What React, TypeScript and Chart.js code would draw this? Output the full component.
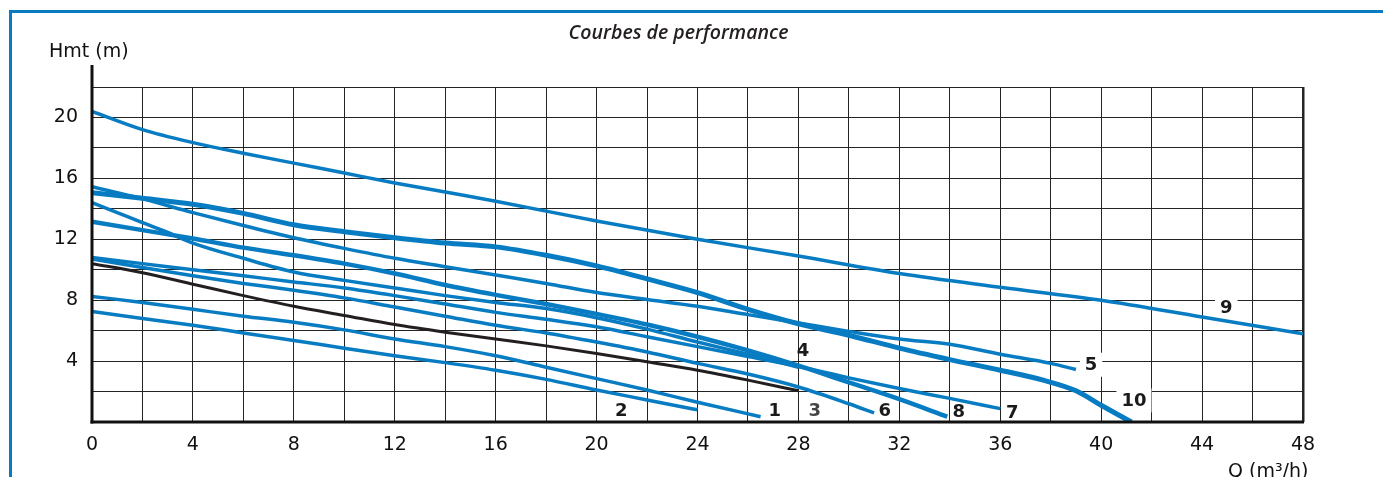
import React, { useEffect, useRef } from 'react';
import { Chart, registerables } from 'chart.js';

Chart.register(...registerables);

// ---------- data (Q in m3/h, Hmt in m) ----------
const curve1: [number, number][] = [[0, 8.25], [2, 7.85], [4, 7.4], [6, 6.95], [8, 6.55], [10, 6.05], [12, 5.45], [14, 4.95], [16, 4.35], [18, 3.6], [20, 2.85], [22, 2.1], [24, 1.3], [26.5, 0.35]];
const curve2: [number, number][] = [[0, 7.25], [2, 6.8], [4, 6.35], [6, 5.85], [8, 5.35], [10, 4.85], [12, 4.35], [14, 3.9], [16, 3.4], [18, 2.8], [20, 2.1], [22, 1.45], [24, 0.8]];
const curve3: [number, number][] = [[0, 10.4], [2, 9.8], [4, 9.05], [6, 8.3], [8, 7.6], [10, 7.0], [12, 6.4], [14, 5.9], [16, 5.45], [18, 5.0], [20, 4.5], [22, 3.95], [24, 3.4], [26, 2.75], [28, 2.05]];
const curve4: [number, number][] = [[0, 14.4], [1, 13.75], [2, 13.1], [3, 12.45], [4, 11.75], [6, 10.75], [8, 9.85], [10, 9.3], [12, 8.8], [14, 8.3], [16, 7.85], [18, 7.45], [20, 6.85], [22, 6.1], [24, 5.25], [26, 4.45], [28, 3.6]];
const curve5: [number, number][] = [[0, 15.45], [2, 14.65], [4, 13.75], [6, 12.9], [8, 12.1], [10, 11.4], [12, 10.75], [14, 10.2], [16, 9.65], [18, 9.1], [20, 8.5], [22, 8.05], [24, 7.6], [26, 7.05], [28, 6.5], [30, 5.95], [32, 5.45], [34, 5.1], [36, 4.45], [38, 3.85], [39, 3.45]];
const curve6: [number, number][] = [[0, 10.7], [2, 10.15], [4, 9.6], [6, 9.1], [8, 8.65], [10, 8.15], [12, 7.55], [14, 6.95], [16, 6.35], [18, 5.85], [20, 5.25], [22, 4.6], [24, 3.85], [26, 3.15], [28, 2.3], [30, 1.2], [31, 0.6]];
const curve7: [number, number][] = [[0, 10.8], [2, 10.4], [4, 10.0], [6, 9.6], [8, 9.2], [10, 8.8], [12, 8.3], [14, 7.75], [16, 7.2], [18, 6.75], [20, 6.25], [22, 5.6], [24, 4.95], [26, 4.3], [28, 3.65], [30, 2.9], [32, 2.2], [34, 1.55], [36, 0.88]];
const curve8: [number, number][] = [[0, 13.15], [2, 12.6], [4, 12.05], [6, 11.45], [8, 10.95], [10, 10.4], [12, 9.75], [14, 9.0], [16, 8.35], [18, 7.75], [20, 7.1], [22, 6.4], [24, 5.6], [26, 4.7], [28, 3.7], [30, 2.6], [32, 1.5], [33.9, 0.35]];
const curve9: [number, number][] = [[0, 20.4], [2, 19.2], [4, 18.35], [6, 17.65], [8, 17.0], [10, 16.35], [12, 15.7], [14, 15.1], [16, 14.5], [20, 13.2], [24, 12.0], [28, 10.9], [32, 9.75], [36, 8.85], [40, 8.0], [44, 6.9], [48, 5.8]];
const curve10: [number, number][] = [[0, 15.05], [2, 14.7], [4, 14.3], [6, 13.7], [8, 12.95], [10, 12.5], [12, 12.1], [14, 11.75], [16, 11.5], [18, 10.95], [20, 10.25], [22, 9.4], [24, 8.5], [26, 7.4], [28, 6.45], [30, 5.7], [32, 4.85], [34, 4.1], [36, 3.4], [37.7, 2.75], [39, 2.05], [40, 1.1], [41.2, 0]];

// curve number labels and where they sit (Q, H)
const labelText = ['1', '2', '3', '4', '5', '6', '7', '8', '9', '10'];
const labelQ = [27.06, 20.98, 28.65, 28.18, 39.6, 31.42, 36.48, 34.36, 44.96, 41.3];
const labelH = [0.77, 0.77, 0.77, 4.7, 3.76, 0.77, 0.66, 0.72, 7.54, 1.42];
const labelBoxed = [false, false, false, false, true, false, false, false, true, true];

const title = 'Courbes de performance';
const yTitle = 'Hmt (m)';
const xTitle = 'Q (m³/h)';

const qMin = 0, qMax = 48, qGridStep = 2, qLabelStep = 4;
const hMin = 0, hMax = 22, hGridStep = 2, hLabelStep = 4;

// ---------- styles ----------
const BLUE = 'rgb(8,124,194)';
const DARK = '#231f20';
const GRID = '#242424';
const TICK_FONT = { family: '"DejaVu Sans", sans-serif', size: 19 };
const LABEL_FONT = 'bold 18px "DejaVu Sans", sans-serif';

const toXY = (c: [number, number][]) => c.map(([x, y]) => ({ x, y }));

const seriesDefs: { data: [number, number][]; color: string; width: number }[] = [
  { data: curve3, color: DARK, width: 3 },
  { data: curve1, color: BLUE, width: 3.5 },
  { data: curve2, color: BLUE, width: 3.5 },
  { data: curve4, color: BLUE, width: 3.5 },
  { data: curve6, color: BLUE, width: 3.5 },
  { data: curve7, color: BLUE, width: 3.5 },
  { data: curve8, color: BLUE, width: 4.5 },
  { data: curve5, color: BLUE, width: 3.5 },
  { data: curve10, color: BLUE, width: 5 },
  { data: curve9, color: BLUE, width: 3.5 },
];

const decor = {
  id: 'decor',
  beforeDatasetsDraw(chart: any) {
    const { ctx, scales } = chart;
    const xs = scales.x, ys = scales.y;
    ctx.save();
    ctx.font = LABEL_FONT;
    ctx.fillStyle = '#ffffff';
    labelText.forEach((t, i) => {
      if (!labelBoxed[i]) return;
      const px = xs.getPixelForValue(labelQ[i]);
      const py = ys.getPixelForValue(labelH[i]);
      const w = ctx.measureText(t).width;
      ctx.fillRect(px - w / 2 - 5, py - 12, w + 10, 24);
    });
    ctx.restore();
  },
  afterDatasetsDraw(chart: any) {
    const { ctx, chartArea: a, scales } = chart;
    const xs = scales.x, ys = scales.y;
    ctx.save();
    // axes
    ctx.strokeStyle = '#111';
    ctx.lineWidth = 3;
    ctx.beginPath();
    ctx.moveTo(a.left, 65);
    ctx.lineTo(a.left, a.bottom + 1.5);
    ctx.stroke();
    ctx.beginPath();
    ctx.moveTo(a.left - 1.5, a.bottom);
    ctx.lineTo(a.right + 1, a.bottom);
    ctx.stroke();
    // curve labels
    ctx.font = LABEL_FONT;
    ctx.textAlign = 'center';
    ctx.textBaseline = 'middle';
    labelText.forEach((t, i) => {
      ctx.fillStyle = t === '3' ? '#444' : '#1a1a1a';
      ctx.fillText(t, xs.getPixelForValue(labelQ[i]), ys.getPixelForValue(labelH[i]) + 1);
    });
    // title
    ctx.fillStyle = DARK;
    ctx.font = 'italic 600 19.5px "Open Sans", sans-serif';
    ctx.textBaseline = 'alphabetic';
    ctx.fillText(title, 678.5, 39);
    // axis titles
    ctx.font = '19px "DejaVu Sans", sans-serif';
    ctx.fillStyle = '#111';
    ctx.textAlign = 'left';
    ctx.fillText(yTitle, 49, 57);
    ctx.fillText(xTitle, 1228, 476.5);
    ctx.restore();
  },
};

export default function App() {
  const ref = useRef<HTMLCanvasElement | null>(null);
  useEffect(() => {
    if (!ref.current) return;
    const chart = new Chart(ref.current, {
      type: 'line',
      data: {
        datasets: seriesDefs.map((s) => ({
          data: toXY(s.data),
          borderColor: s.color,
          borderWidth: s.width,
          pointRadius: 0,
          fill: false,
          cubicInterpolationMode: 'monotone' as const,
          borderCapStyle: 'butt' as const,
          borderJoinStyle: 'round' as const,
        })),
      },
      options: {
        animation: false,
        responsive: false,
        devicePixelRatio: 1,
        layout: { padding: { top: 87, left: 0, right: 80, bottom: 0 } },
        plugins: { legend: { display: false }, tooltip: { enabled: false }, title: { display: false } },
        scales: {
          x: {
            type: 'linear',
            min: qMin,
            max: qMax,
            afterFit: (s: any) => { s.height = 55; },
            border: { display: false },
            grid: {
              color: GRID,
              lineWidth: (c: any) => (c.tick && c.tick.value === qMax ? 2.5 : 1),
              drawTicks: false,
            },
            ticks: {
              stepSize: qGridStep,
              autoSkip: false,
              maxRotation: 0,
              padding: 12,
              color: '#111',
              font: TICK_FONT,
              callback: (v: any) => (Number(v) % qLabelStep === 0 ? String(v) : ''),
            },
          },
          y: {
            type: 'linear',
            min: hMin,
            max: hMax,
            afterFit: (s: any) => { s.width = 92; },
            border: { display: false },
            grid: { color: GRID, lineWidth: 1, drawTicks: false },
            ticks: {
              stepSize: hGridStep,
              autoSkip: false,
              padding: 14,
              color: '#111',
              font: TICK_FONT,
              callback: (v: any) => (Number(v) % hLabelStep === 0 && Number(v) !== 0 ? String(v) : ''),
            },
          },
        },
      },
      plugins: [decor],
    });
    return () => chart.destroy();
  }, []);

  return (
    <div style={{ position: 'fixed', left: 0, top: 0, width: 1383, height: 477, background: '#fff', overflow: 'hidden' }}>
      <div
        style={{
          position: 'absolute',
          left: 9,
          top: 10,
          width: 2000,
          height: 1000,
          borderLeft: `3px solid ${BLUE}`,
          borderTop: `3px solid ${BLUE}`,
        }}
      />
      <canvas ref={ref} width={1383} height={477} style={{ position: 'absolute', left: 0, top: 0 }} />
    </div>
  );
}
